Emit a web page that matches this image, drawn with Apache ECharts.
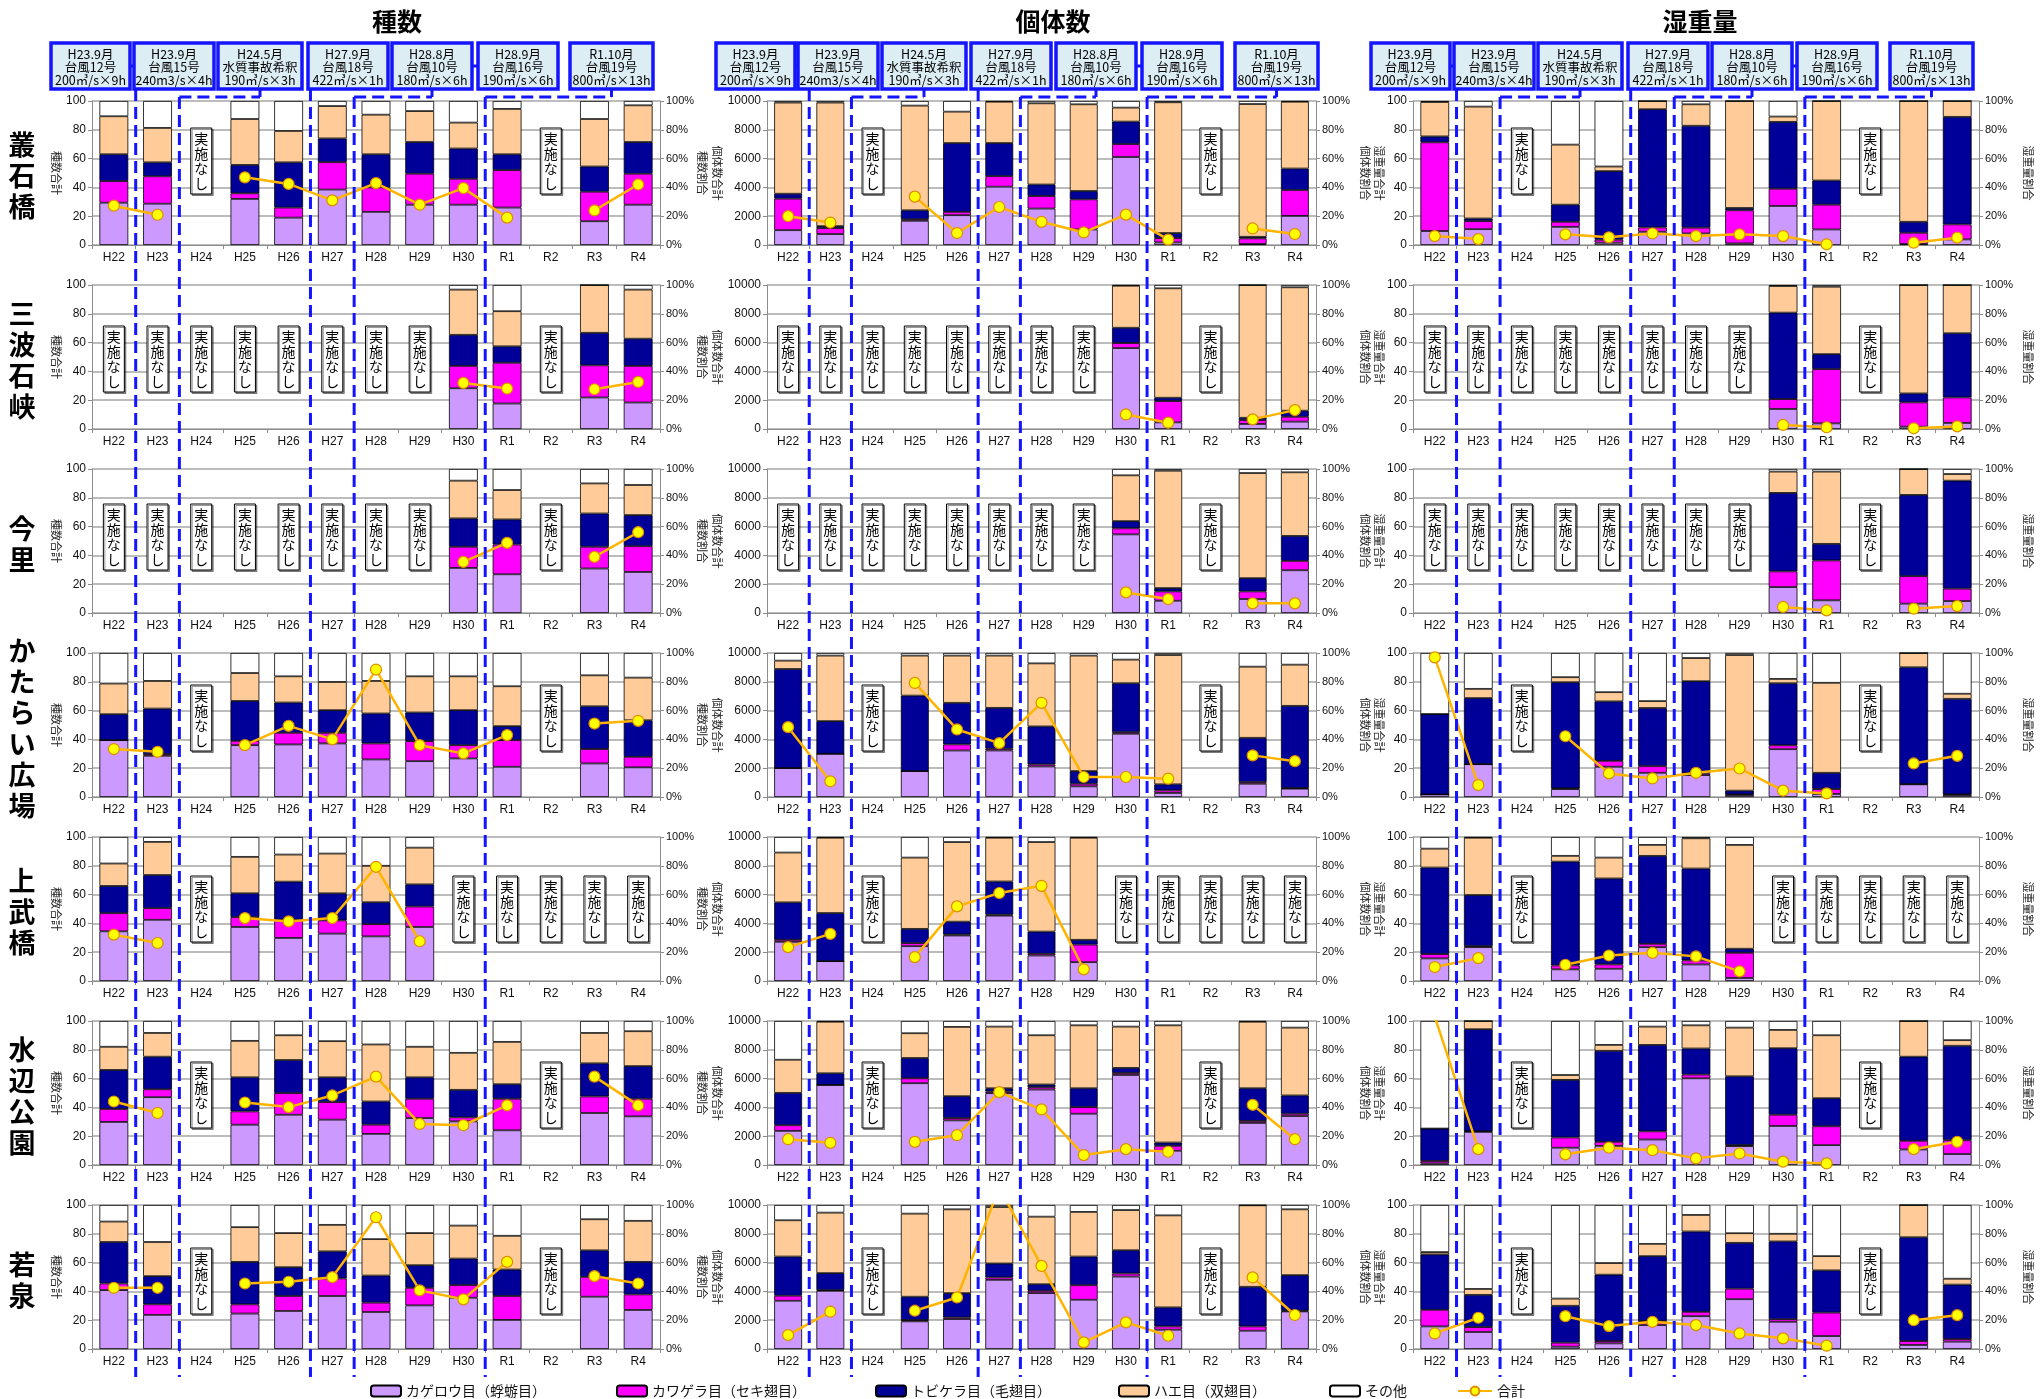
<!DOCTYPE html>
<html>
<head>
<meta charset="utf-8">
<script src="https://cdn.jsdelivr.net/npm/echarts@6/dist/echarts.min.js"></script>
<style>
  html, body { margin: 0; padding: 0; background: #ffffff; }
  #chart { width: 2040px; height: 1399px; }
</style>
</head>
<body>
<div id="chart"></div>
<script>
// ---- categories and labels ----
const categories = ['H22', 'H23', 'H24', 'H25', 'H26', 'H27', 'H28', 'H29', 'H30', 'R1', 'R2', 'R3', 'R4'];
const stations = ['叢石橋', '三波石峡', '今里', 'かたらい広場', '上武橋', '水辺公園', '若泉'];
const metrics = ['種数', '個体数', '湿重量'];
const leftAxisNames = ['種数合計', '個体数合計', '湿重量合計'];
const rightAxisNames = ['種数割合', '個体数割合', '湿重量割合'];
const leftAxisMax = [100, 10000, 100];
const leftAxisStep = [20, 2000, 20];
const segmentNames = ['カゲロウ目（蜉蝣目）', 'カワゲラ目（セキ翅目）', 'トビケラ目（毛翅目）', 'ハエ目（双翅目）', 'その他'];
const totalName = '合計';
const notSurveyed = '実施なし';

// flood / discharge events shown above each column
const eventDates = ['H23.9月', 'H23.9月', 'H24.5月', 'H27.9月', 'H28.8月', 'H28.9月', 'R1.10月'];
const eventNames = ['台風12号', '台風15号', '水質事故希釈', '台風18号', '台風10号', '台風16号', '台風19号'];
const eventFlows = ['200㎥/s×9h', '240m3/s×4h', '190㎥/s×3h', '422㎥/s×1h', '180㎥/s×6h', '190㎥/s×6h', '800㎥/s×13h'];

// Each survey: cumulative share (%) at the top of カゲロウ, カワゲラ, トビケラ, ハエ, then the total.
// null = 実施なし
// 叢石橋
const speciesSoseki = [[29.4,44.4,63,89.4,27.3],[28.7,47.7,57.4,81.3,21],null,[32,35.9,55.6,87.5,47],[19,26,57.4,79.2,42.4],[38.5,57.5,74,96.5,31],[23,40,63,90.5,43],[28,49.5,71.5,93,28],[28,46,67,85,39.5],[26,52,63,94.5,19],null,[16.5,37,54.5,87.5,24],[28,49.5,71.5,97,42]];
const countSoseki = [[10.3,32.2,35.6,98.9,2000],[7.6,11.7,13.1,98.9,1560],null,[16.8,17.9,24.1,96.8,3360],[20.7,23,70.8,92.6,830],[40.5,47.8,70.8,99.5,2640],[25.3,34,42,98.4,1610],[10.8,31.7,37.5,97.7,870],[61.1,70.1,85.7,95.4,2110],[1.8,4.8,8.3,99.1,370],null,[0.7,4.6,5.7,97.9,1150],[20.2,38.2,53.1,99.5,760]];
const weightSoseki = [[9.7,71.3,75.4,99.3,6.2],[11,16.6,18.4,96.1,4.1],null,[12.6,16.1,28,69.7,7.4],[1.6,3.7,51.3,54.5,5.3],[9.2,12.2,94.3,100,8],[8,12,82.8,97.7,6.2],[1.1,24.1,25.7,100,7.4],[27.1,39.1,85.5,89.2,6.2],[10.8,28,44.8,100,0.5],null,[0.7,8.5,16.1,100,1.6],[3.9,14.3,89,100,5.1]];
// 三波石峡
const speciesSanba = [null,null,null,null,null,null,null,null,[28.3,43.8,65.4,96.8,32],[17.7,46,57.4,81.8,28.1],null,[21.9,44.2,66.8,100,27.6],[18.4,43.8,62.7,96.8,32.7]];
const countSanba = [null,null,null,null,null,null,null,null,[56.2,59.7,70.3,99.5,1010],[4.6,19.4,21.7,97.7,440],null,[3.5,6.2,7.8,100,670],[5.1,8.5,12.7,98.4,1310]];
const weightSanba = [null,null,null,null,null,null,null,null,[13.9,20.8,80.8,99.3,2.8],[3.9,41.6,52,98.8,1.2],null,[1.6,18.5,24.7,100,0.5],[4.2,21.9,66.5,100,1.8]];
// 今里
const speciesImasato = [null,null,null,null,null,null,null,null,[31.3,46,65.7,91.9,35.5],[26.9,47.6,65,85.4,48.7],null,[30.9,46,69.1,90,39],[28.5,46.4,68,88.9,56.1]];
const countImasato = [null,null,null,null,null,null,null,null,[54.6,58.8,63.8,95.6,1430],[8.5,15,17.3,98.8,970],null,[9.7,15,24.2,97.2,670],[29.7,36.2,53.5,97.7,670]];
const weightImasato = [null,null,null,null,null,null,null,null,[18,28.9,83.4,98.2,4.2],[8.8,36.5,48,98.2,1.8],null,[6.5,25.6,82,100,3],[8.3,16.9,91.9,96.5,4.8]];
// かたらい広場
const speciesKatarai = [[39.5,39.5,57.5,78.8,33.3],[28.6,29.8,61.4,80.6,31.4],null,[36,39,66.7,86.1,36],[36.5,44.6,65.6,83.8,49.4],[37.2,44.6,60.3,79.9,40],[26.1,37.2,58,80.6,88.5],[24.9,38.8,58.7,83.8,36],[26.8,36,60.3,83.8,30.3],[21,39.5,49.2,76.9,43],null,[23.3,33.3,63,84.5,51],[20.6,27.9,53.3,82.9,52.9]];
const countKatarai = [[20.1,20.1,88.9,94.7,4850],[30,30,52.7,98.2,1090],null,[18,18,70.4,98.2,7920],[32.3,36.5,65.4,98.2,4690],[32.3,33.5,61.9,98.2,3740],[21.2,22.6,49,92.8,6540],[7.4,9.2,18,98.2,1390],[43.9,45,79,95.4,1390],[2.8,4.6,8.8,98.6,1270],null,[9.2,10.4,41.1,90.5,2890],[5.8,6.2,63.3,91.9,2490]];
const weightKatarai = [[1.8,1.8,57.6,57.6,97],[22.8,22.8,68.7,75.1,8.3],null,[5.5,6,79.7,83.2,42.2],[21,25.1,66.4,72.8,16.4],[16.8,21.4,61.8,66.6,12.9],[15.2,16.4,80.4,96.5,16.8],[1.4,1.8,4.4,98.6,19.8],[33.2,35.9,79,82,4.4],[2.1,5.5,16.8,79.3,2.5],null,[8.8,9,90.1,100,23.3],[1.4,1.8,68.2,71.7,28.6]];
// 上武橋
const speciesJobu = [[34.5,47.1,66,81.6,32.2],[42.5,50.6,73.6,96.6,26.4],null,[37.5,44.4,60.9,86.2,43.7],[29.9,42.5,69,87.8,41.4],[32.9,42.1,60.9,88.5,43.7],[31,39.5,54.7,80,79.3],[37.5,51.7,67.1,92.6,27.6],null,null,null,null,null];
const countJobu = [[27.2,28.6,54.6,89.2,2350],[13.8,13.8,47.2,99.5,3270],null,[24.2,26.3,36.2,85.7,1660],[31.6,32.3,41.2,96.5,5180],[45.4,46.1,69.1,99.5,6110],[17.7,18.9,34.3,96.5,6610],[13.1,25.3,28.6,99.5,810],null,null,null,null,null];
const weightJobu = [[15.7,18.7,78.8,91.9,9.7],[23.5,24.2,59.7,99.5,15.9],null,[8.1,10.8,82.9,86.9,11.3],[8.5,11.5,71.2,85.7,17.7],[23.5,25.8,86.9,94.5,19.6],[11.5,14.3,78.1,99.1,17.1],[2.1,19.6,22.4,94.5,6.7],null,null,null,null,null];
// 水辺公園
const speciesMizube = [[29.9,38.9,66,82.1,44.1],[47.1,52.6,75.2,91.7,36.1],null,[28,37.2,60.9,86.2,43.4],[34.9,49.9,72.9,90.1,40.2],[31.5,43.7,60.9,86,48.3],[21.6,28,44.1,83.7,61.4],[32.6,46,60.9,82.1,28.5],[30.3,33.1,52.2,77.9,27.6],[24.1,46,56.1,85.5,41.4],null,[36.1,47.6,70.6,91.7,61.4],[33.8,46,68.7,92.9,41.4]];
const countMizube = [[23.7,27.6,50.1,73.1,1790],[55.6,55.6,63.7,99.5,1540],null,[56.8,60.2,74.3,91.5,1610],[31,32.6,47.8,95.9,2070],[49.9,51,53.3,96.1,5060],[52.4,54,55.9,90.1,3860],[35.6,40.2,53.3,97,690],[62.5,63.9,67.4,96.1,1100],[9.9,13.3,15.6,97,920],null,[29.2,30.6,53.3,99.5,4180],[34,35.6,48.3,95.4,1790]];
const weightMizube = [[1.1,2.8,25.3,25.3,103],[23,23.4,94.3,100,11],null,[12,19.1,59.1,62.5,7.4],[13.3,16.1,79.3,83.4,12],[17.7,23.4,83.4,96.1,10.3],[60.2,62.8,80.9,97,4.6],[13.1,13.8,61.6,95.4,8],[27.1,34.9,81.1,93.8,2.3],[13.8,26.9,46.4,90.1,1.1],null,[10.8,16.8,75.2,100,11],[7.6,17.2,82.8,86.7,16.1]];
// 若泉
const speciesWakaizumi = [[40.9,45.5,74.3,88.5,42.5],[23.7,31,50.6,74.3,42.5],null,[24.6,31,60.5,84.6,45.5],[26.4,36.8,56.8,80.5,46.7],[36.8,49,67.8,86.2,49.9],[25.7,32.2,51,76.3,91.5],[30.3,42.5,58.2,80.5,40.7],[35.6,44.4,62.8,85.7,34.5],[20.2,36.8,55.2,78.6,60.5],null,[36.3,50.1,68.5,90.1,50.6],[27.1,37.9,60.5,89,45.5]];
const countWakaizumi = [[33.5,37,64.2,89.4,970],[40.4,40.9,52.7,94.7,2590],null,[19.2,20.1,36.3,94,2660],[20.8,21.9,38.8,97,3580],[48,49.7,59.4,98.6,11200],[38.8,40.4,45,91.9,5770],[34.2,44.3,64.2,95.2,460],[50.3,52.4,68.6,96.5,1850],[13.4,15.7,28.9,92.8,920],null,[12.7,15.7,43.2,99.8,4970],[26.1,26.6,51.3,97,2360]];
const weightWakaizumi = [[15.7,27.2,65.7,67.3,10.8],[11.8,15.2,37.6,41.7,21.7],null,[1.6,4.4,30,35,22.8],[3.9,5.5,51.6,59.7,15.9],[16.6,19.4,64.5,73,18.9],[22.8,25.8,81.6,93.1,16.6],[34.6,41.9,73.7,80.4,10.8],[18.9,20.7,74.7,80,7.4],[9,25.3,54.6,64.5,2.3],null,[2.8,5.5,77.6,100,20],[5.1,6.9,44.7,48.8,23.5]];

const panels = [
  [speciesSoseki, countSoseki, weightSoseki],
  [speciesSanba, countSanba, weightSanba],
  [speciesImasato, countImasato, weightImasato],
  [speciesKatarai, countKatarai, weightKatarai],
  [speciesJobu, countJobu, weightJobu],
  [speciesMizube, countMizube, weightMizube],
  [speciesWakaizumi, countWakaizumi, weightWakaizumi]
];

// ---- layout ----
const FONT = '"Noto Sans CJK JP", "Noto Sans", sans-serif';
const NUMFONT = '"Liberation Sans", Arial, sans-serif';
const segColors = ['#cc99ff', '#ff00ff', '#000099', '#ffcc99', '#ffffff'];
const colLeft = [92, 767, 1413];
const colWidth = [568, 549, 566];
const colTitleX = [397, 1053, 1700];
const leftNameGap = [30.5, 44.5, 28];
const rightNameGap = [36.5, 43.5, 43.5];
const rowTop0 = 101, rowStep = 184, gridH = 144;
const noteOffset = [27, 41, 35, 32, 39, 41, 43];
const boxLeft = [
  [51, 134, 218, 308, 392, 478, 570],
  [716, 798, 882, 971, 1056, 1142, 1235],
  [1371, 1454, 1538, 1628, 1712, 1797, 1890]
];
const boxWidth = [79, 80, 84, 80, 80, 80, 83];
const boxTop = 43, boxH = 46, bracketY = 97, lineBottom = 1377;
// which boxes are joined, and where their markers drop into the plots
const boxJoins = [[0, 1], [4, 5]];
const eventMarks = [
  { box: 1, after: 'H22', bracket: false },
  { box: 2, after: 'H23', bracket: true },
  { box: 3, after: 'H26', bracket: false },
  { box: 4, after: 'H27', bracket: true },
  { box: 6, after: 'H30', bracket: true }
];

function segmentsOf(e) {
  return [e[0], e[1] - e[0], e[2] - e[1], e[3] - e[2], 100 - e[3]]
    .map(v => Math.max(0, Math.round(v * 100) / 100));
}

const grids = [], xAxes = [], yAxes = [], series = [];
const axisGray = '#8c8c8c';

stations.forEach((st, r) => {
  metrics.forEach((m, c) => {
    const g = r * 3 + c;
    const rows = panels[r][c];
    grids.push({ left: colLeft[c], top: rowTop0 + r * rowStep, width: colWidth[c], height: gridH });
    xAxes.push({
      type: 'category', gridIndex: g, data: categories,
      axisLine: { lineStyle: { color: axisGray, width: 1 } },
      axisTick: { show: true, length: 4, lineStyle: { color: axisGray } },
      axisLabel: { color: '#111', fontSize: 12, fontFamily: NUMFONT, margin: 7 }
    });
    yAxes.push({
      type: 'value', gridIndex: g, position: 'left',
      min: 0, max: leftAxisMax[c], interval: leftAxisStep[c],
      name: leftAxisNames[c], nameLocation: 'middle', nameRotate: -90, nameGap: leftNameGap[c],
      nameMoveOverlap: false,
      nameTextStyle: { fontSize: 11, color: '#222', fontFamily: FONT },
      axisLine: { show: true, lineStyle: { color: axisGray } },
      axisTick: { show: true, length: 4, lineStyle: { color: axisGray } },
      axisLabel: { color: '#111', fontSize: 12, fontFamily: NUMFONT, margin: 6, formatter: v => String(v) },
      splitLine: { show: true, lineStyle: { color: '#a6a6a6', width: 1.5 } }
    });
    yAxes.push({
      type: 'value', gridIndex: g, position: 'right',
      min: 0, max: 100, interval: 20,
      name: rightAxisNames[c], nameLocation: 'middle', nameRotate: -90, nameGap: rightNameGap[c],
      nameMoveOverlap: false,
      nameTextStyle: { fontSize: 11, color: '#222', fontFamily: FONT },
      axisLine: { show: true, lineStyle: { color: axisGray } },
      axisTick: { show: true, length: 4, lineStyle: { color: axisGray } },
      axisLabel: { color: '#111', fontSize: 11, fontFamily: NUMFONT, margin: 6, formatter: '{value}%' },
      splitLine: { show: false }
    });
    segmentNames.forEach((nm, k) => {
      series.push({
        type: 'bar', name: nm, xAxisIndex: g, yAxisIndex: 2 * g + 1, stack: 'share' + g,
        barWidth: '66%',
        itemStyle: { color: segColors[k], borderColor: '#000', borderWidth: 0.8 },
        data: rows.map(e => (e ? segmentsOf(e)[k] : null))
      });
    });
    series.push({
      type: 'line', name: totalName, xAxisIndex: g, yAxisIndex: 2 * g,
      data: rows.map(e => (e ? e[4] : null)),
      clip: true, z: 5,
      symbol: 'circle', symbolSize: 11,
      lineStyle: { color: '#ffb400', width: 2.5 },
      itemStyle: { color: '#ffff00', borderColor: '#e08a00', borderWidth: 1.2 }
    });
  });
});

const legendX = [365, 611, 870, 1113, 1324, 1452];
const legends = segmentNames.concat([totalName]).map((nm, i) => ({
  data: [nm], left: legendX[i], top: 1379, selectedMode: false,
  itemWidth: i < 5 ? 30 : 34, itemHeight: 11, itemGap: 6,
  textStyle: { fontSize: 14, color: '#111', fontFamily: FONT }
}));

const chart = echarts.init(document.getElementById('chart'), null, { renderer: 'canvas' });
chart.setOption({
  animation: false,
  backgroundColor: '#ffffff',
  grid: grids, xAxis: xAxes, yAxis: yAxes, series: series,
  legend: legends
});

// ---- annotations placed from the axes ----
const graphics = [];
const blue = '#1414ff';
const dash = [12, 6];

metrics.forEach((m, c) => {
  graphics.push({
    type: 'text', x: colTitleX[c], y: 21, z: 50,
    style: { text: m, fontSize: 25, fontWeight: 'bold', fontFamily: FONT, fill: '#000', align: 'center', verticalAlign: 'middle' }
  });
  // event boxes
  boxLeft[c].forEach((bx, i) => {
    graphics.push({
      type: 'rect', z: 40, shape: { x: bx, y: boxTop, width: boxWidth[i], height: boxH },
      style: { fill: '#dcedf4', stroke: blue, lineWidth: 3.5 }
    });
    graphics.push({
      type: 'text', z: 41, x: bx + boxWidth[i] / 2, y: boxTop + boxH / 2 + 1,
      style: {
        text: eventDates[i] + '\n' + eventNames[i] + '\n' + eventFlows[i],
        fontSize: 12.5, lineHeight: 13, fontFamily: FONT, fill: '#000', align: 'center', verticalAlign: 'middle'
      }
    });
  });
  boxJoins.forEach(([a, b]) => {
    const y = boxTop + boxH / 2;
    graphics.push({
      type: 'line', z: 39, shape: { x1: boxLeft[c][a] + boxWidth[a], y1: y, x2: boxLeft[c][b], y2: y },
      style: { stroke: blue, lineWidth: 3 }
    });
  });
  // dashed markers between surveys
  const g0 = c;
  eventMarks.forEach(ev => {
    const i = categories.indexOf(ev.after);
    const xa = chart.convertToPixel({ xAxisIndex: g0 }, categories[i]);
    const xb = chart.convertToPixel({ xAxisIndex: g0 }, categories[i + 1]);
    const xm = (xa + xb) / 2;
    const boxCx = boxLeft[c][ev.box] + boxWidth[ev.box] / 2;
    const top = ev.bracket ? bracketY : boxTop + boxH;
    graphics.push({
      type: 'line', z: 30, shape: { x1: xm, y1: top, x2: xm, y2: lineBottom },
      style: { stroke: blue, lineWidth: 3, lineDash: dash }
    });
    if (ev.bracket) {
      graphics.push({
        type: 'line', z: 30, shape: { x1: xm, y1: bracketY, x2: boxCx, y2: bracketY },
        style: { stroke: blue, lineWidth: 3, lineDash: dash }
      });
      graphics.push({
        type: 'line', z: 30, shape: { x1: boxCx, y1: boxTop + boxH, x2: boxCx, y2: bracketY },
        style: { stroke: blue, lineWidth: 3 }
      });
    }
  });
});

stations.forEach((st, r) => {
  const top = rowTop0 + r * rowStep;
  graphics.push({
    type: 'text', x: 22, y: top + gridH / 2 + 3, z: 50,
    style: {
      text: st.split('').join('\n'), fontSize: 27, lineHeight: 31, fontWeight: 'bold',
      fontFamily: FONT, fill: '#000', align: 'center', verticalAlign: 'middle'
    }
  });
  metrics.forEach((m, c) => {
    const g = r * 3 + c;
    panels[r][c].forEach((e, i) => {
      if (e) return;
      const cx = chart.convertToPixel({ xAxisIndex: g }, categories[i]);
      const y0 = top + noteOffset[r];
      graphics.push({
        type: 'rect', z: 35, shape: { x: cx - 10.5, y: y0, width: 21, height: 66 },
        style: { fill: '#ffffff', stroke: '#000', lineWidth: 1, shadowColor: 'rgba(0,0,0,0.4)', shadowOffsetX: 1.5, shadowOffsetY: 1.5, shadowBlur: 0 }
      });
      graphics.push({
        type: 'text', z: 36, x: cx, y: y0 + 33,
        style: {
          text: notSurveyed.split('').join('\n'), fontSize: 14, lineHeight: 15,
          fontFamily: FONT, fill: '#000', align: 'center', verticalAlign: 'middle'
        }
      });
    });
  });
});

chart.setOption({ graphic: { elements: graphics } });
</script>
</body>
</html>
